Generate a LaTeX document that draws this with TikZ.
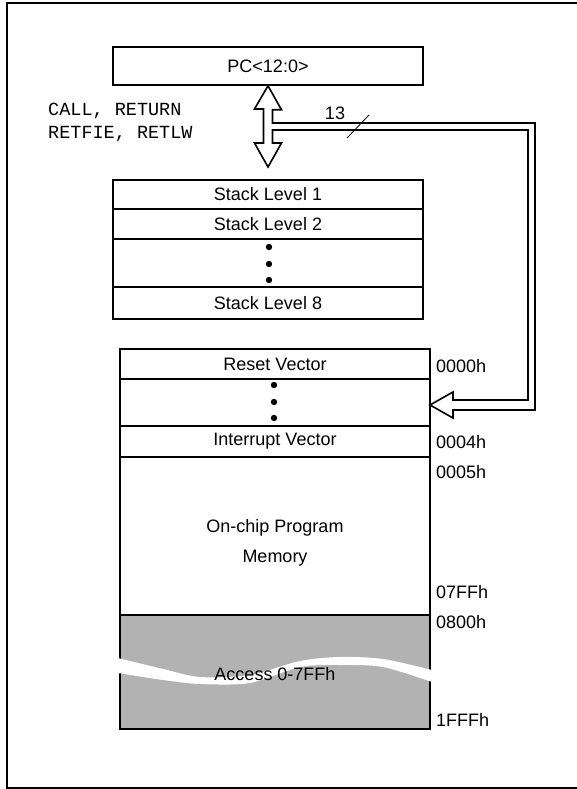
\documentclass[tikz,border=0pt]{standalone}
\usepackage{fontspec}
\setmainfont{Liberation Sans}
\newfontfamily\codefont{Liberation Mono}
\definecolor{memgray}{RGB}{178,178,178}
\newcommand{\stkx}{268}
\newcommand{\memx}{275}
\newcommand{\addrx}{436}
\tikzset{
    cell/.style={draw,line width=1.6pt,minimum width=310pt,inner sep=0pt,font=\fontsize{18}{20}\selectfont},
    txt/.style={inner sep=0pt,font=\fontsize{18}{30}\selectfont},
    addr/.style={txt,anchor=west},
    hollow/.style={draw,line width=1.6pt,line join=miter}
}

\begin{document}
\begin{tikzpicture}[x=1pt,y=-1pt]
                    \useasboundingbox (0,0) rectangle (577,789);
                    \draw [line width=2.5pt] (577,3) -- (7,3) -- (7,788) -- (577,788);
                    \node [cell,minimum height=38pt] (pc) at (\stkx,66) {PC<12:0>};
                    \node [cell,minimum height=29pt] (lvla) at (\stkx,194.5) {Stack Level 1};
                    \node [cell,minimum height=30pt] (lvlb) at (\stkx,224) {Stack Level 2};
                    \node [cell,minimum height=48pt] (lvldots) at (\stkx,263) {};
                    \node [cell,minimum height=32pt] (lvlh) at (\stkx,303) {Stack Level 8};
                    \node [cell,minimum height=30pt] (rst) at (\memx,364) {Reset Vector};
                    \node [cell,minimum height=47pt] (vecdots) at (\memx,402.5) {};
                    \node [cell,minimum height=31pt] (irq) at (\memx,441.5) {Interrupt Vector};
                    \node [cell,minimum height=158pt] (prog) at (\memx,536) {};
                    \node [cell,minimum height=114pt,fill=memgray] (ext) at (\memx,672) {};
                    \foreach \y in {247,264,280}
                    {
                        \fill (\stkx+1,\y) circle (3.2pt);
                    }
                    \foreach \y in {385,402,418}
                    {
                        \fill (\memx-1,\y) circle (3.2pt);
                    }
                    \node [txt,align=center] (progtxt) at (\memx,543) {On-chip Program\\Memory};
                    \fill [white] plot [smooth] coordinates {(118,658) (163,669) (200,677) (250,675) (300,661) (340,657) (383,659) (432,670)}
                        -- plot [smooth] coordinates {(432,682) (383,667) (340,665) (300,667) (250,683) (200,684) (163,680) (118,673)} -- cycle;
                    \node [txt] (exttxt) at (\memx,674) {Access 0-7FFh};
                    \foreach \y/\a in {366/0000h,442/0004h,472/0005h,592/07FFh,622/0800h,720/1FFFh}
                    {
                        \node [addr] (a\a) at (\addrx,\y) {\a};
                    }
                    \node [anchor=west,inner sep=0pt,align=left,font=\codefont\fontsize{18.5}{23}\selectfont] (ops) at (48,122) {CALL, RETURN\\RETFIE, RETLW};
                    \coordinate (bustip) at (430,405);
                    \draw [hollow] (pc.south) -- ++(13.5,24) -- ++(-9,0) -- (272.5,123) -- (535,123) -- (535,410) -- (453,410) -- (453,418)
                        -- (bustip) -- (453,392) -- (453,400) -- (528,400) -- (528,130) -- (272.5,130) -- (272.5,143) -- (281.5,143)
                        -- (268,167) -- (254.5,143) -- (263.5,143) -- (263.5,109) -- (254.5,109) -- cycle;
                    \draw [line width=0.8pt] (347,138) -- (369,115);
                    \node [txt] (buswidth) at (335,113) {13};
\end{tikzpicture}
\end{document}
